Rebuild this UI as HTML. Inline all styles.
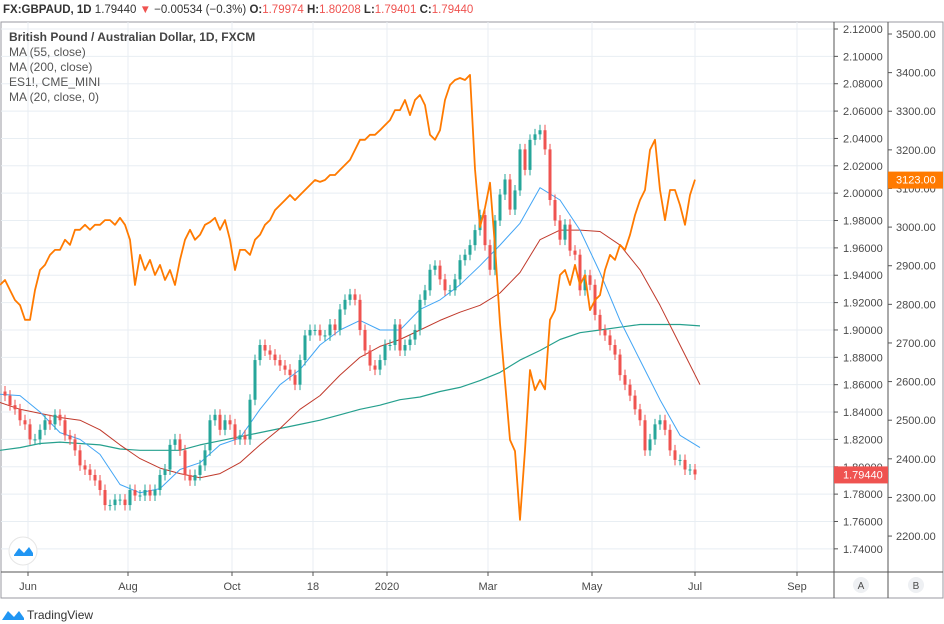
<!DOCTYPE html>
<html><head><meta charset="utf-8"><style>
body{margin:0;background:#fff;width:944px;height:624px;overflow:hidden;font-family:"Liberation Sans",sans-serif}
svg{position:absolute;left:0;top:0}
</style></head><body>
<svg id="c" width="944" height="624" xmlns="http://www.w3.org/2000/svg"></svg>
<script>
const closes=[1.852,1.845,1.842,1.834,1.831,1.820,1.820,1.827,1.834,1.831,1.838,1.834,1.823,1.820,1.812,1.801,1.798,1.794,1.790,1.783,1.772,1.772,1.776,1.776,1.772,1.783,1.779,1.779,1.783,1.779,1.783,1.794,1.798,1.816,1.820,1.812,1.794,1.790,1.794,1.801,1.812,1.834,1.838,1.827,1.834,1.831,1.820,1.823,1.820,1.849,1.878,1.889,1.885,1.882,1.878,1.874,1.871,1.867,1.860,1.878,1.896,1.900,1.900,1.896,1.896,1.904,1.900,1.915,1.922,1.926,1.922,1.900,1.885,1.874,1.871,1.878,1.889,1.889,1.904,1.885,1.889,1.893,1.900,1.922,1.929,1.944,1.947,1.937,1.929,1.929,1.937,1.951,1.955,1.962,1.973,1.984,1.962,1.944,1.980,1.999,2.010,1.988,2.002,2.032,2.017,2.039,2.043,2.046,2.032,1.995,1.980,1.966,1.977,1.958,1.955,1.929,1.940,1.933,1.911,1.900,1.896,1.889,1.882,1.867,1.860,1.852,1.842,1.834,1.812,1.820,1.831,1.834,1.827,1.812,1.805,1.805,1.798,1.798,1.7944];
const es=[2850,2863,2837,2811,2798,2760,2760,2837,2889,2902,2928,2941,2941,2967,2954,2993,2993,3006,2993,3006,3006,3018,3018,3006,3024,3006,2967,2850,2928,2889,2915,2876,2902,2863,2889,2850,2915,2967,2993,2967,2980,3006,3013,3024,2993,3018,2967,2889,2941,2941,2928,2967,2980,3006,3018,3044,3057,3070,3083,3070,3083,3096,3109,3122,3117,3122,3135,3135,3148,3161,3174,3200,3226,3226,3239,3239,3251,3264,3277,3303,3303,3329,3290,3329,3342,3316,3239,3226,3251,3329,3368,3381,3386,3381,3394,3150,3000,3050,3115,2950,2750,2600,2449,2420,2242,2423,2630,2578,2604,2580,2760,2785,2876,2889,2850,2902,2850,2876,2785,2811,2824,2889,2928,2915,2954,2941,2980,3031,3070,3096,3200,3226,3096,3018,3096,3096,3057,3006,3083,3123];
const ma20=[1.853,1.852,1.840,1.825,1.820,1.809,1.787,1.781,1.784,1.798,1.803,1.816,1.821,1.842,1.860,1.871,1.889,1.900,1.907,1.900,1.900,1.915,1.922,1.933,1.947,1.962,1.978,2.004,1.995,1.973,1.942,1.907,1.878,1.849,1.823,1.814];
const ma55=[1.847,1.842,1.839,1.836,1.834,1.827,1.816,1.806,1.799,1.795,1.792,1.795,1.803,1.816,1.828,1.842,1.852,1.867,1.880,1.888,1.893,1.900,1.907,1.913,1.918,1.927,1.942,1.966,1.973,1.973,1.972,1.962,1.944,1.918,1.889,1.860];
const ma200=[1.812,1.814,1.817,1.818,1.817,1.816,1.813,1.812,1.812,1.812,1.816,1.819,1.822,1.825,1.828,1.831,1.834,1.838,1.842,1.845,1.849,1.851,1.855,1.858,1.863,1.869,1.878,1.885,1.893,1.898,1.900,1.902,1.904,1.904,1.904,1.903];
const leftTicks=[2.12,2.10,2.08,2.06,2.04,2.02,2.00,1.98,1.96,1.94,1.92,1.90,1.88,1.86,1.84,1.82,1.80,1.78,1.76,1.74];
const rightTicks=[3500,3400,3300,3200,3100,3000,2900,2800,2700,2600,2500,2400,2300,2200];
const timeLabels=["Jun","Aug","Oct","18","2020","Mar","May","Jul","Sep"];
const timeIdx=[4.6,24.6,45.4,61.6,76.4,96.6,117.4,138,158.4];

const svg=document.getElementById('c');const NS='http://www.w3.org/2000/svg';
const yL=v=>29+(2.12-v)*1368;
const yR=v=>34+(3500-v)*0.3862;
const xC=i=>5+i*5;const xE=i=>i*5;const xM=i=>i*20;
function el(t,a,p){const e=document.createElementNS(NS,t);for(const k in a)e.setAttribute(k,a[k]);(p||svg).appendChild(e);return e;}
let f=el('rect',{x:1,y:22,width:942,height:576,fill:'none',stroke:'#9a9aa0'});


leftTicks.forEach(t=>{let g=el('line',{x1:1,x2:834,y1:yL(t),y2:yL(t),stroke:'#e8eef3'});

});
timeIdx.forEach(t=>{let g=el('line',{x1:xC(t),x2:xC(t),y1:22,y2:572,stroke:'#e8eef3'});

});
function line(arr,xf,yf,col,w,name){let d=arr.map((v,i)=>(i?'L':'M')+xf(i).toFixed(1)+','+yf(v).toFixed(1)).join('');
let p=el('path',{d:d,fill:'none',stroke:col,'stroke-width':w,'stroke-linejoin':'round'});

}
line(ma200,xM,yL,'#26a08e',1.2,'ma-200-line');
line(ma55,xM,yL,'#c0392b',1,'ma-55-line');
line(ma20,xM,yL,'#42a5f5',1,'ma-20-line');
closes.forEach((c,i)=>{const o=i?closes[i-1]:c+0.003;const up=c>=o;const col=up?'#26a69a':'#ef5350';
const hi=Math.max(o,c)+0.004,lo=Math.min(o,c)-0.004;const x=xC(i);
let g=el('g',{});


el('line',{x1:x,x2:x,y1:yL(hi),y2:yL(lo),stroke:col,'stroke-width':1},g);
const yt=yL(Math.max(o,c)),yb=yL(Math.min(o,c));
el('rect',{x:x-1.5,y:yt,width:3,height:Math.max(1,yb-yt),fill:col},g);});
line(es,xE,yR,'#ff7a00',1.8,'es-mini-line');
[834,888].forEach(x=>{let a=el('line',{x1:x,x2:x,y1:22,y2:598,stroke:'#555'});

});
let ab=el('line',{x1:1,x2:943,y1:572,y2:572,stroke:'#555'});


function txt(x,y,s,a){let t=el('text',Object.assign({x:x,y:y,'font-size':11,fill:'#4a4a4a'},a||{}));t.textContent=s;return t;}
leftTicks.forEach(t=>{el('line',{x1:834,x2:838,y1:yL(t),y2:yL(t),stroke:'#555'});
let l=txt(843,yL(t)+4,t.toFixed(5));

});
rightTicks.forEach(t=>{el('line',{x1:888,x2:892,y1:yR(t),y2:yR(t),stroke:'#555'});
let l=txt(896,yR(t)+4,t.toFixed(2));

});
timeLabels.forEach((s,i)=>{el('line',{x1:xC(timeIdx[i]),x2:xC(timeIdx[i]),y1:572,y2:576,stroke:'#555'});
let l=txt(xC(timeIdx[i]),590,s,{'text-anchor':'middle'});

});
const last=closes[closes.length-1],lastEs=es[es.length-1];
let pt=el('rect',{x:834,y:yL(last)-8,width:54,height:17,fill:'#ef5350'});


txt(843,yL(last)+4,last.toFixed(5),{fill:'#fff'});
let et=el('rect',{x:888,y:yR(lastEs)-8,width:55,height:17,fill:'#ff7a00'});


txt(896,yR(lastEs)+4,lastEs.toFixed(2),{fill:'#fff'});
[['A',861],['B',916]].forEach(b=>{let g=el('g',{});


el('circle',{cx:b[1],cy:585,r:8,fill:'#eef0f3'},g);
let t=txt(b[1],589,b[0],{'text-anchor':'middle','font-size':10});g.appendChild(t);});
let h=el('text',{x:3,y:13,'font-size':11.5,fill:'#333'});


h.innerHTML='<tspan font-weight="bold">FX:GBPAUD, 1D</tspan> 1.79440 <tspan fill="#ef5350">▼</tspan> −0.00534 (−0.3%) <tspan font-weight="bold">O:</tspan><tspan fill="#ef5350">1.79974</tspan> <tspan font-weight="bold">H:</tspan><tspan fill="#ef5350">1.80208</tspan> <tspan font-weight="bold">L:</tspan><tspan fill="#ef5350">1.79401</tspan> <tspan font-weight="bold">C:</tspan><tspan fill="#ef5350">1.79440</tspan>';
const legend=["British Pound / Australian Dollar, 1D, FXCM","MA (55, close)","MA (200, close)","ES1!, CME_MINI","MA (20, close, 0)"];
legend.forEach((s,i)=>{let l=txt(9,41+i*15,s,{'font-size':12,fill:i?'#555':'#444','font-weight':i?'normal':'bold'});

});
let lg=el('g',{});


el('circle',{cx:23,cy:551,r:14,fill:'#fff',stroke:'#e6e6e6'},lg);
el('path',{d:'M14,555 L19,548 L24,553 L29,547 L33,553 L33,556 L14,556Z',fill:'#2196f3'},lg);
let fl=el('g',{});


el('path',{d:'M2,620 L8,611 L14,617 L19,611 L24,618 L24,620Z',fill:'#2196f3'},fl);
let tv=txt(27,619,'TradingView',{'font-size':12,fill:'#333'});fl.appendChild(tv);
</script>
</body></html>
